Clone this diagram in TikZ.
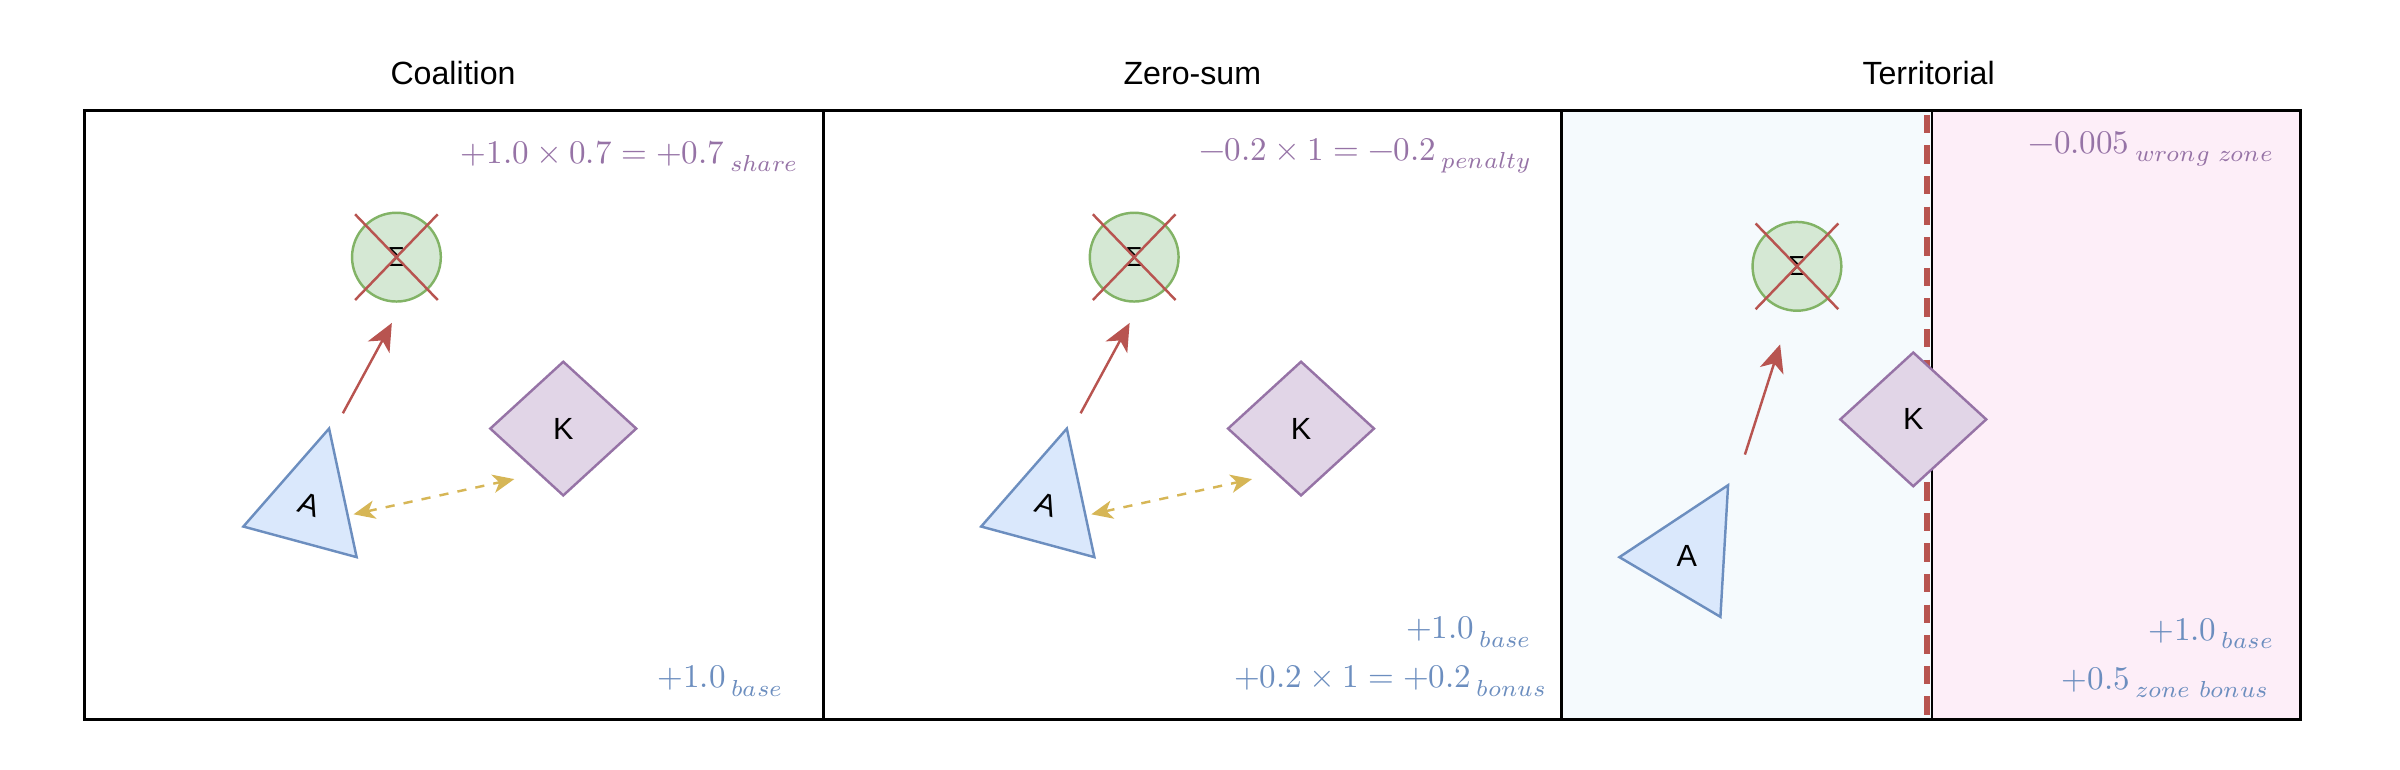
\documentclass[tikz,border=0pt]{standalone}
\usepackage{fontspec}
\setmainfont{Liberation Sans}
\usepackage{unicode-math}
\setmathfont{Latin Modern Math}
\usetikzlibrary{arrows.meta,shapes.geometric}
\definecolor{bF}{HTML}{DAE8FC}\definecolor{bS}{HTML}{6C8EBF}
\definecolor{gF}{HTML}{D5E8D4}\definecolor{gS}{HTML}{82B366}
\definecolor{pF}{HTML}{E1D5E7}\definecolor{pS}{HTML}{9673A6}
\definecolor{rS}{HTML}{B85450}\definecolor{yS}{HTML}{D6B656}
\definecolor{zoneL}{HTML}{F5FAFD}\definecolor{zoneR}{HTML}{FDEEF8}
\tikzset{
 panel/.style={draw=black,line width=0.9pt},
 title/.style={font=\fontsize{10.5}{12}\selectfont},
 goal/.style={circle,draw=gS,fill=gF,line width=0.8pt,minimum size=29pt,inner sep=0pt,font=\fontsize{9}{10}\selectfont},
 keeper/.style={diamond,draw=pS,fill=pF,line width=0.8pt,minimum width=48pt,minimum height=44pt,inner sep=0pt,font=\fontsize{10}{12}\selectfont},
 agent/.style={draw=bS,fill=bF,line width=0.8pt},
 lab/.style={font=\fontsize{10}{12}\selectfont},
 cross/.style={draw=rS,line width=0.8pt},
 move/.style={draw=rS,line width=0.8pt,-{Stealth[length=9pt,width=8pt,inset=2.5pt]}},
 markline/.style={draw=yS,line width=0.8pt,dashed,{Stealth[length=7pt,width=6pt,inset=2pt]}-{Stealth[length=7pt,width=6pt,inset=2pt]}},
 ptxt/.style={text=pS,anchor=east,font=\fontsize{10.8}{13}\selectfont},
 btxt/.style={text=bS,anchor=east,font=\fontsize{10.8}{13}\selectfont},
}
\begin{document}
\begin{tikzpicture}[x=0.5pt,y=-0.5pt]
\useasboundingbox (0,0) rectangle (1568,503);
\fill[zoneL] (1020,72) rectangle (1262,470);
\fill[zoneR] (1262,72) rectangle (1503,470);
\draw[rS,line width=1.8pt,dash pattern=on 6pt off 4pt] (1259,75) -- (1259,470);
\draw[panel] (55,72) rectangle (538,470);
\draw[panel] (538,72) rectangle (1020,470);
\draw[panel] (1020,72) rectangle (1503,470);
\draw[line width=0.6pt] (1262,72) -- (1262,470);
\node[title] (t1) at (296,48) {Coalition};
\node[title] (t2) at (779,48) {Zero-sum};
\node[title] (t3) at (1260,48) {Territorial};
\foreach \o/\n in {0/1,482/2}{
 \node[goal] (g\n) at (259+\o,168) {Σ};
 \draw[cross] (232+\o,140) -- (286+\o,196) (286+\o,140) -- (232+\o,196);
 \draw[agent] (159+\o,344) -- (215+\o,280) -- (233+\o,364) -- cycle;
 \node[lab,rotate=-18] (a\n) at (202+\o,330) {A};
 \node[keeper] (k\n) at (368+\o,280) {K};
 \coordinate (s\n) at (224+\o,270);
 \coordinate (e\n) at (256+\o,211);
 \draw[move] (s\n) -- (e\n);
 \coordinate (m\n) at (231+\o,336);
 \coordinate (n\n) at (336+\o,313);
 \draw[markline] (m\n) -- (n\n);
}
\node[ptxt] (x1) at (529,102) {$+1.0\times0.7=+0.7\,{}_{\symit{share}}$};
\node[btxt] (x2) at (519,445) {$+1.0\,{}_{\symit{base}}$};
\node[ptxt] (x3) at (1008,102) {$-0.2\times1=-0.2\,{}_{\symit{penalty}}$};
\node[btxt] (x4) at (1008,413) {$+1.0\,{}_{\symit{base}}$};
\node[btxt] (x5) at (1018,445) {$+0.2\times1=+0.2\,{}_{\symit{bonus}}$};
\node[goal] (g3) at (1174,174) {Σ};
\draw[cross] (1147,146) -- (1201,202) (1201,146) -- (1147,202);
\draw[agent] (1058,364) -- (1129,317) -- (1124,403) -- cycle;
\node[lab] (a3) at (1102,363) {A};
\node[keeper] (k3) at (1250,274) {K};
\coordinate (s3) at (1140,297);
\coordinate (e3) at (1163,225);
\draw[move] (s3) -- (e3);
\node[ptxt] (x6) at (1493,97) {$-0.005\,{}_{\symit{wrong}\ \symit{zone}}$};
\node[btxt] (x7) at (1493,414) {$+1.0\,{}_{\symit{base}}$};
\node[btxt] (x8) at (1490,446) {$+0.5\,{}_{\symit{zone}\ \symit{bonus}}$};
\end{tikzpicture}
\end{document}
